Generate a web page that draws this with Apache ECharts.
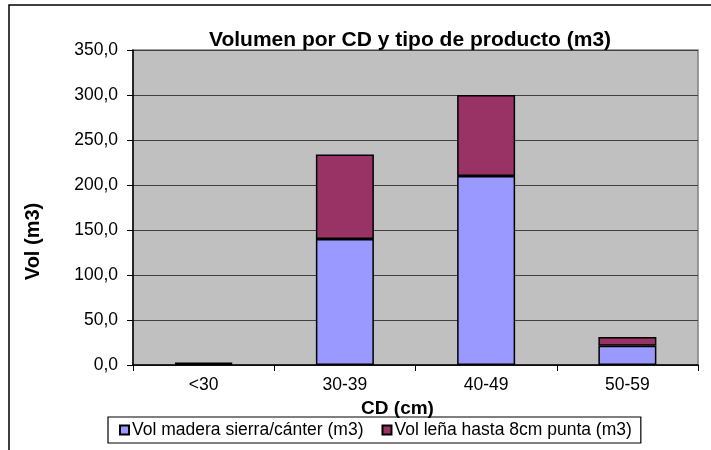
<!DOCTYPE html>
<html><head><meta charset="utf-8">
<script src="https://cdn.jsdelivr.net/npm/echarts@6/dist/echarts.min.js"></script>
<style>html,body{margin:0;padding:0;background:#fff}#c{width:711px;height:450px}</style>
</head><body><div id="c"></div>
<script>
const categories = ['<30', '30-39', '40-49', '50-59'];
const volSierra = [1.6, 140, 210, 21.5];
const volLena = [0.8, 94, 90, 9.5];
const yTicks = [0, 50, 100, 150, 200, 250, 300, 350];

const FONT = '"Liberation Sans", Arial, sans-serif';
const chart = echarts.init(document.getElementById('c'), null, {renderer: 'canvas'});
chart.setOption({
  animation: false,
  backgroundColor: '#fff',
  textStyle: {fontFamily: FONT},
  graphic: [{
    type: 'rect', shape: {x: 9, y: 5, width: 720, height: 470},
    style: {fill: 'none', stroke: '#000', lineWidth: 1.5}, silent: true, z: -1
  }],
  title: {
    text: 'Volumen por CD y tipo de producto (m3)',
    left: 405, top: 25, textAlign: 'center',
    textStyle: {fontFamily: FONT, fontWeight: 'bold', fontSize: 21, color: '#000'}
  },
  grid: {left: 133, right: 13, top: 50, bottom: 85, show: true,
    backgroundColor: '#C0C0C0', borderColor: '#808080', borderWidth: 1.5},
  legend: {
    left: 108, top: 417, itemWidth: 9, itemHeight: 9, itemGap: 18,
    padding: [4, 9, 4, 11],
    borderColor: '#000', borderWidth: 1.2,
    icon: 'rect',
    textStyle: {fontFamily: FONT, fontSize: 17.5, color: '#000', padding: [0, 0, 0, -2]},
    data: ['Vol madera sierra/cánter (m3)', 'Vol leña hasta 8cm punta (m3)']
  },
  xAxis: {
    type: 'category', data: categories,
    name: 'CD (cm)', nameLocation: 'middle', nameGap: 33,
    nameTextStyle: {fontFamily: FONT, fontWeight: 'bold', fontSize: 19, color: '#000', padding: [0, 36, 0, 0]},
    axisLine: {lineStyle: {color: '#000', width: 1.5}},
    axisTick: {show: true, length: 6, lineStyle: {color: '#000'}},
    axisLabel: {fontFamily: FONT, fontSize: 17.5, color: '#000', margin: 11}
  },
  yAxis: {
    type: 'value', min: yTicks[0], max: yTicks[yTicks.length - 1], interval: 50,
    name: 'Vol (m3)', nameLocation: 'middle', nameGap: 90,
    nameTextStyle: {fontFamily: FONT, fontWeight: 'bold', fontSize: 20, color: '#000', padding: [0, 68, 0, 0]},
    axisLine: {show: true, lineStyle: {color: '#000', width: 1.5}},
    axisTick: {show: true, length: 6, lineStyle: {color: '#000'}},
    splitLine: {lineStyle: {color: '#404040', width: 1.2}},
    axisLabel: {fontFamily: FONT, fontSize: 17.5, color: '#000', margin: 15,
      formatter: v => v.toFixed(1).replace('.', ',')}
  },
  series: [
    {name: 'Vol madera sierra/cánter (m3)', type: 'bar', stack: 'v', data: volSierra,
      barWidth: 58, itemStyle: {color: '#9999FF', borderColor: '#000', borderWidth: 1.5}},
    {name: 'Vol leña hasta 8cm punta (m3)', type: 'bar', stack: 'v', data: volLena,
      barWidth: 58, itemStyle: {color: '#993366', borderColor: '#000', borderWidth: 1.5}}
  ]
});
</script></body></html>
